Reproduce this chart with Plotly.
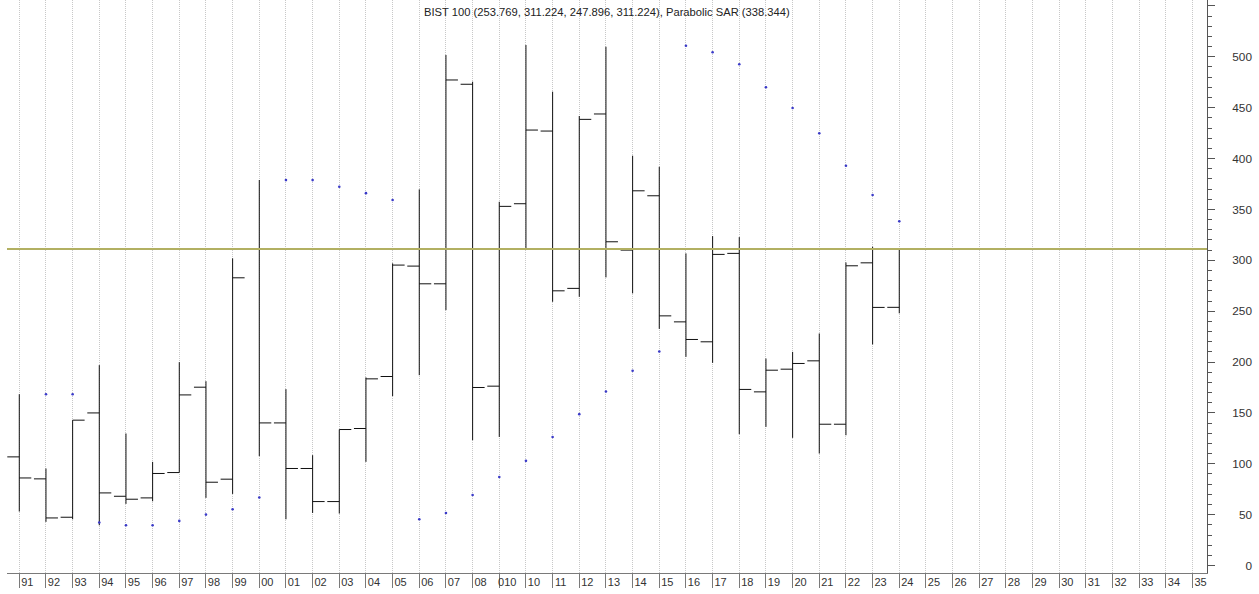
import plotly.graph_objects as go

# ---- data ----
x_labels = ["91", "92", "93", "94", "95", "96", "97", "98", "99",
            "00", "01", "02", "03", "04", "05", "06", "07", "08", "010",
            "10", "11", "12", "13", "14", "15", "16", "17", "18", "19", "20",
            "21", "22", "23", "24", "25", "26", "27", "28", "29", "30",
            "31", "32", "33", "34", "35"]

open_ = [106.8, 85.2, 47.5, 150.0, 68.1, 66.5, 91.4, 175.3, 84.9, 310.7,
         140.2, 95.4, 62.9, 134.7, 185.8, 294.3, 276.9, 473.0, 176.3, 355.6,
         427.0, 272.4, 443.8, 310.0, 363.4, 239.5, 219.9, 306.8, 170.7, 193.0,
         201.2, 138.9, 297.5, 253.769]
high = [168.4, 95.4, 142.9, 197.0, 129.8, 101.9, 199.9, 181.2, 301.9, 378.9,
        173.4, 108.5, 133.7, 184.9, 297.0, 369.7, 501.8, 475.5, 357.5, 511.6,
        465.7, 441.8, 509.9, 402.8, 391.9, 306.8, 323.8, 322.8, 203.5, 210.0,
        228.1, 297.9, 313.3, 311.224]
low = [53.1, 42.9, 45.5, 39.6, 60.6, 63.2, 91.4, 66.5, 70.4, 107.5,
       45.5, 51.7, 51.1, 101.9, 166.5, 187.1, 251.0, 123.2, 126.4, 310.7,
       259.2, 264.1, 283.2, 267.5, 232.6, 205.1, 199.2, 129.1, 136.3, 125.5,
       110.1, 128.1, 217.3, 247.896]
close = [86.1, 46.8, 142.9, 71.4, 65.2, 90.5, 167.7, 81.9, 282.8, 140.2,
         95.4, 62.9, 133.7, 183.5, 295.3, 276.9, 477.2, 175.0, 353.0, 428.0,
         270.0, 438.5, 318.2, 368.3, 245.4, 222.2, 305.8, 173.1, 192.0, 198.6,
         138.9, 294.6, 253.7, 311.224]
sar = [None, 168.4, 168.4, 42.3, 39.6, 39.6, 43.9, 50.1, 55.4, 66.9,
       378.8, 378.8, 372.3, 366.0, 359.2, 45.5, 51.7, 69.4, 87.1, 102.9,
       126.4, 148.8, 171.1, 191.4, 210.4, 510.9, 504.4, 492.6, 470.0, 449.7,
       424.8, 392.9, 364.1, 338.344]

title_text = "BIST 100 (253.769, 311.224, 247.896, 311.224), Parabolic SAR (338.344)"

bar_x = list(range(len(open_)))
tick_x = list(range(len(x_labels)))

Y_RANGE = [-7.3, 555.8]
FONT = "Liberation Sans, Arial, sans-serif"

fig = go.Figure()
fig.add_trace(go.Ohlc(
    x=bar_x, open=open_, high=high, low=low, close=close,
    increasing=dict(line=dict(color="#111111", width=1)),
    decreasing=dict(line=dict(color="#111111", width=1)),
    tickwidth=0.45, hoverinfo="skip", showlegend=False,
))
fig.add_trace(go.Scatter(
    x=bar_x, y=sar, mode="markers", yaxis="y2",
    marker=dict(size=2.6, color="#3a3ac8", line=dict(width=0)),
    hoverinfo="skip", showlegend=False,
))

fig.add_shape(type="line", xref="x domain", x0=0, x1=1, yref="y",
              y0=close[-1], y1=close[-1],
              line=dict(color="#b2b062", width=2))

fig.add_annotation(text=title_text, xref="x domain", x=0.5, yref="paper",
                   y=1 - 11.7 / 573, yanchor="middle", showarrow=False,
                   font=dict(family=FONT, size=11.2, color="#222222"))

fig.update_layout(
    width=1259, height=594, autosize=False,
    margin=dict(l=7, r=2, t=0, b=21, pad=0),
    paper_bgcolor="white", plot_bgcolor="white",
    font=dict(family=FONT, color="#333333"),
    showlegend=False, hovermode=False,
    xaxis=dict(
        domain=[0, 1200 / 1250], range=[-0.461, 44.54],
        tickmode="array", tickvals=tick_x, ticktext=x_labels,
        ticks="outside", ticklen=14, tickcolor="#7a7a7a", tickwidth=1,
        showline=True, linecolor="#7a7a7a", linewidth=1,
        showgrid=True, gridcolor="#c8c8c8", griddash="1px,1px", gridwidth=1,
        zeroline=False, tickfont=dict(size=11, color="#333333"),
        ticklabelshift=8, ticklabelstandoff=-15,
        rangeslider=dict(visible=False), fixedrange=True,
    ),
    yaxis=dict(
        range=Y_RANGE, side="right", anchor="x",
        showline=True, linecolor="#555555", linewidth=1,
        ticks="outside", ticklen=7, tickcolor="#555555",
        tick0=0, dtick=50, showticklabels=False,
        minor=dict(ticks="outside", ticklen=4, dtick=10, tickcolor="#555555",
                   showgrid=False),
        showgrid=False, zeroline=False, fixedrange=True,
    ),
    yaxis2=dict(
        range=Y_RANGE, overlaying="y", anchor="free", side="left",
        position=(1252 - 7) / 1250, showline=False, ticks="",
        tick0=0, dtick=50, showgrid=False, zeroline=False,
        tickfont=dict(size=11.8, color="#333333"), fixedrange=True,
    ),
)

fig.write_html("out.html", config={"displayModeBar": False},
               post_script="document.body.style.margin='0';document.body.style.overflow='hidden';")
